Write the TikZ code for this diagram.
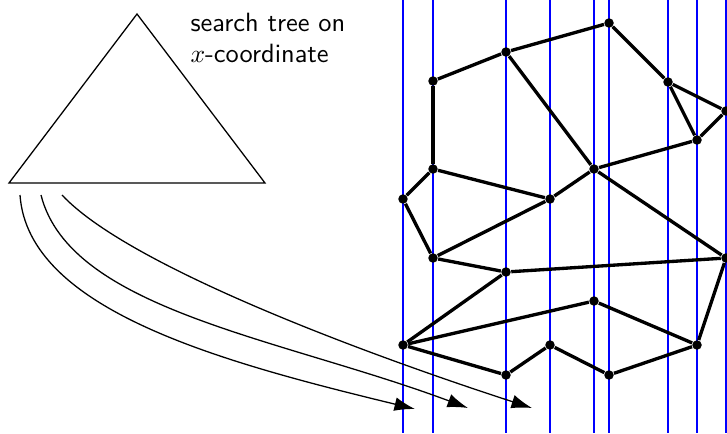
\documentclass[tikz,border=0pt]{standalone}
\usepackage{amssymb}
\usepackage{pgf, tikz}
\usetikzlibrary{arrows.meta}
\pgfdeclarelayer{slablayer}
\pgfdeclarelayer{edgelayer}
\pgfdeclarelayer{nodelayer}
\pgfsetlayers{slablayer,edgelayer,nodelayer,main}
\tikzstyle{slab}=[draw=blue, line width=0.8pt]
\tikzstyle{edge}=[draw=black, line width=1.3pt]
\tikzstyle{vertex}=[circle, fill=black, inner sep=0pt, minimum size=3.7pt]
\tikzstyle{tree}=[draw=black, line width=0.5pt]
\tikzstyle{pointer}=[draw=black, line width=0.5pt, -{Latex[length=8pt,width=5.4pt]}]
\tikzstyle{label}=[align=left, inner sep=0pt, font=\sffamily\fontsize{10.3}{12}\selectfont]

\begin{document}
\begin{tikzpicture}[x=0.39pt, y=-0.39pt]
					\useasboundingbox (0, 0) rectangle (727, 433);
					\begin{pgfonlayer}{nodelayer}
						\node [style=vertex] (1) at (609, 23) {};
						\node [style=vertex] (2) at (506, 52) {};
						\node [style=vertex] (3) at (433, 81) {};
						\node [style=vertex] (4) at (668, 82) {};
						\node [style=vertex] (5) at (726, 111) {};
						\node [style=vertex] (6) at (697, 140) {};
						\node [style=vertex] (7) at (594, 169) {};
						\node [style=vertex] (8) at (433, 169) {};
						\node [style=vertex] (9) at (403, 199) {};
						\node [style=vertex] (10) at (550, 199) {};
						\node [style=vertex] (11) at (433, 258) {};
						\node [style=vertex] (12) at (506, 272) {};
						\node [style=vertex] (13) at (726, 258) {};
						\node [style=vertex] (14) at (594, 301) {};
						\node [style=vertex] (15) at (403, 345) {};
						\node [style=vertex] (16) at (550, 345) {};
						\node [style=vertex] (17) at (697, 345) {};
						\node [style=vertex] (18) at (506, 375) {};
						\node [style=vertex] (19) at (609, 375) {};
						\node [style=label, anchor=north west] (20) at (190, 13) {search tree on\\$x$-coordinate};
					\end{pgfonlayer}
					\begin{pgfonlayer}{slablayer}
						\coordinate (t1) at (403, 0);
						\coordinate (b1) at (403, 433);
						\coordinate (t2) at (433, 0);
						\coordinate (b2) at (433, 433);
						\coordinate (t3) at (506, 0);
						\coordinate (b3) at (506, 433);
						\coordinate (t4) at (550, 0);
						\coordinate (b4) at (550, 433);
						\coordinate (t5) at (594, 0);
						\coordinate (b5) at (594, 433);
						\coordinate (t6) at (609, 0);
						\coordinate (b6) at (609, 433);
						\coordinate (t7) at (668, 0);
						\coordinate (b7) at (668, 433);
						\coordinate (t8) at (697, 0);
						\coordinate (b8) at (697, 433);
						\coordinate (t9) at (726, 0);
						\coordinate (b9) at (726, 433);
						\draw [style=slab] (t1) to (b1);
						\draw [style=slab] (t2) to (b2);
						\draw [style=slab] (t3) to (b3);
						\draw [style=slab] (t4) to (b4);
						\draw [style=slab] (t5) to (b5);
						\draw [style=slab] (t6) to (b6);
						\draw [style=slab] (t7) to (b7);
						\draw [style=slab] (t8) to (b8);
						\draw [style=slab] (t9) to (b9);
					\end{pgfonlayer}
					\begin{pgfonlayer}{edgelayer}
						\draw [style=edge] (3) to (2);
						\draw [style=edge] (2) to (1);
						\draw [style=edge] (1) to (4);
						\draw [style=edge] (4) to (5);
						\draw [style=edge] (4) to (6);
						\draw [style=edge] (5) to (6);
						\draw [style=edge] (2) to (7);
						\draw [style=edge] (6) to (7);
						\draw [style=edge] (3) to (8);
						\draw [style=edge] (8) to (9);
						\draw [style=edge] (8) to (10);
						\draw [style=edge] (10) to (7);
						\draw [style=edge] (7) to (13);
						\draw [style=edge] (9) to (11);
						\draw [style=edge] (11) to (10);
						\draw [style=edge] (11) to (12);
						\draw [style=edge] (12) to (13);
						\draw [style=edge] (12) to (15);
						\draw [style=edge] (15) to (14);
						\draw [style=edge] (14) to (17);
						\draw [style=edge] (17) to (13);
						\draw [style=edge] (15) to (18);
						\draw [style=edge] (18) to (16);
						\draw [style=edge] (16) to (19);
						\draw [style=edge] (19) to (17);
						% search tree
						\coordinate (apex) at (137, 14);
						\coordinate (bl) at (9, 183);
						\coordinate (br) at (265, 183);
						\draw [style=tree] (apex) -- (bl) -- (br) -- cycle;
						% pointers into the slabs
						\coordinate (s1) at (20, 195);
						\coordinate (s2) at (41, 195);
						\coordinate (s3) at (62, 195);
						\coordinate (e1) at (415, 409);
						\coordinate (e2) at (468, 408);
						\coordinate (e3) at (532, 408);
						\draw [style=pointer] (s1) .. controls (28, 310) and (221, 362) .. (e1);
						\draw [style=pointer] (s2) .. controls (70, 310) and (281, 338) .. (e2);
						\draw [style=pointer] (s3) .. controls (132, 270) and (390, 362) .. (e3);
					\end{pgfonlayer}
				\end{tikzpicture}
\end{document}
